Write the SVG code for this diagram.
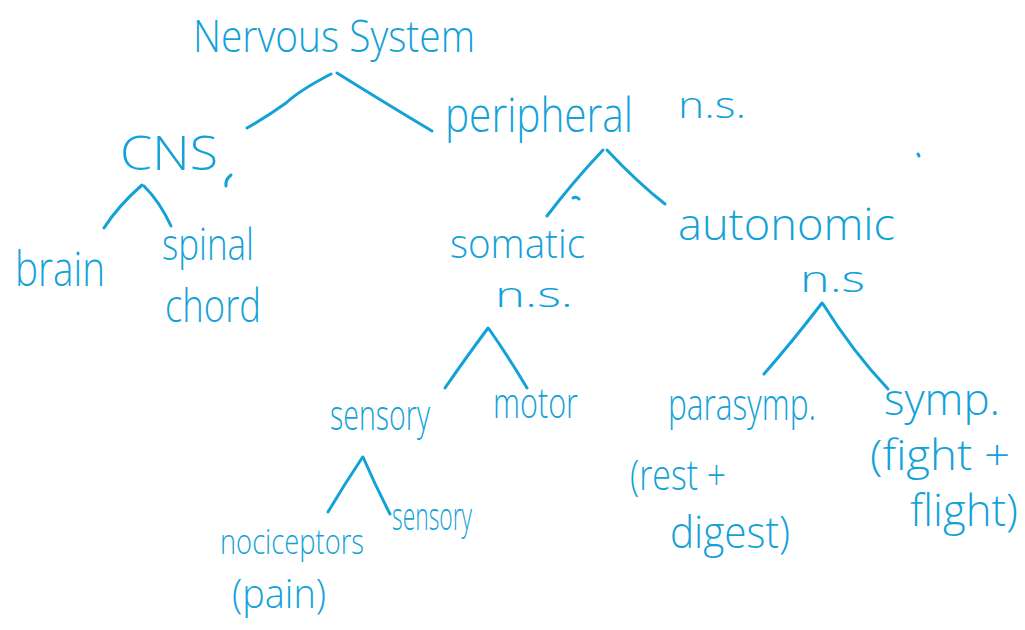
<svg xmlns="http://www.w3.org/2000/svg" width="1025" height="630" viewBox="0 0 1025 630">
<style>
text{font-family:"Open Sans","Lato","DejaVu Sans",sans-serif;font-weight:300;fill:#13a2d8}
.c path{fill:none;stroke:#13a2d8;stroke-width:3;stroke-linecap:round;stroke-linejoin:round}
</style>
<rect width="1025" height="630" fill="#ffffff"/>
<g class="c" id="connectors">
<path d="M331,74 Q300,90 286,103 Q268,116 247,128"/>
<path d="M337,73 Q390,106 432,131"/>
<path d="M142,185 Q118,206 104,228"/>
<path d="M144,186 Q160,202 171,226"/>
<path d="M231,175 Q225,180 226,186"/>
<path d="M603,150 Q572,183 547,216"/>
<path d="M607,150 Q638,183 665,204"/>
<path d="M573,198 Q576,196 579,199"/>
<path d="M488,328 Q465,359 445,388"/>
<path d="M489,329 Q508,356 527,388"/>
<path d="M822,303 Q792,342 764,374"/>
<path d="M823,304 Q853,352 888,389"/>
<path d="M362,458 Q344,485 328,512"/>
<path d="M363,457 Q376,487 390,514"/>
<path d="M918,154 L919,156"/>
</g>
<g id="n-nervous"><text x="193" y="52" font-size="44" textLength="282" lengthAdjust="spacingAndGlyphs">Nervous System</text></g>
<g id="n-cns"><text x="120" y="170" font-size="48" textLength="98" lengthAdjust="spacingAndGlyphs">CNS</text></g>
<g id="n-peripheral"><text x="445" y="132" font-size="48" textLength="188" lengthAdjust="spacingAndGlyphs">peripheral</text><text x="678" y="118" font-size="36" textLength="68" lengthAdjust="spacingAndGlyphs">n.s.</text></g>
<g id="n-brain"><text x="15" y="286" font-size="48" textLength="90" lengthAdjust="spacingAndGlyphs">brain</text></g>
<g id="n-spinal"><text x="162" y="260" font-size="44" textLength="92" lengthAdjust="spacingAndGlyphs">spinal</text><text x="165" y="322" font-size="46" textLength="96" lengthAdjust="spacingAndGlyphs">chord</text></g>
<g id="n-somatic"><text x="450" y="258" font-size="40" textLength="135" lengthAdjust="spacingAndGlyphs">somatic</text><text x="495" y="307" font-size="34" textLength="78" lengthAdjust="spacingAndGlyphs">n.s.</text></g>
<g id="n-autonomic"><text x="678" y="240" font-size="44" textLength="217" lengthAdjust="spacingAndGlyphs">autonomic</text><text x="800" y="292" font-size="36" textLength="65" lengthAdjust="spacingAndGlyphs">n.s</text></g>
<g id="n-sensory"><text x="330" y="430" font-size="42" textLength="100" lengthAdjust="spacingAndGlyphs">sensory</text></g>
<g id="n-motor"><text x="493" y="418" font-size="42" textLength="85" lengthAdjust="spacingAndGlyphs">motor</text></g>
<g id="n-parasymp"><text x="668" y="420" font-size="44" textLength="148" lengthAdjust="spacingAndGlyphs">parasymp.</text><text x="630" y="490" font-size="42" textLength="96" lengthAdjust="spacingAndGlyphs">(rest +</text><text x="670" y="548" font-size="44" textLength="120" lengthAdjust="spacingAndGlyphs">digest)</text></g>
<g id="n-symp"><text x="884" y="415" font-size="44" textLength="116" lengthAdjust="spacingAndGlyphs">symp.</text><text x="870" y="470" font-size="42" textLength="140" lengthAdjust="spacingAndGlyphs">(fight +</text><text x="910" y="526" font-size="44" textLength="108" lengthAdjust="spacingAndGlyphs">flight)</text></g>
<g id="n-nociceptors"><text x="220" y="554" font-size="34" textLength="144" lengthAdjust="spacingAndGlyphs">nociceptors</text><text x="232" y="608" font-size="40" textLength="94" lengthAdjust="spacingAndGlyphs">(pain)</text></g>
<g id="n-sensory2"><text x="392" y="530" font-size="38" textLength="80" lengthAdjust="spacingAndGlyphs">sensory</text></g>
</svg>
